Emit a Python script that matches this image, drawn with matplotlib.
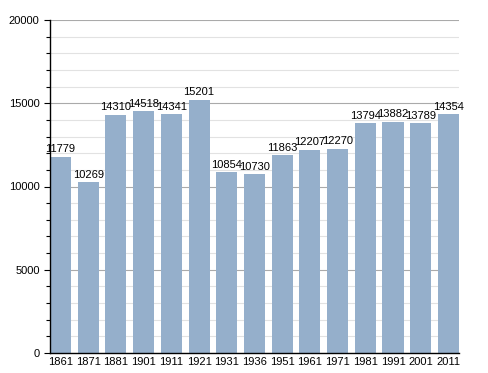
import matplotlib

matplotlib.use("Agg")
import matplotlib.pyplot as plt
from matplotlib.ticker import MultipleLocator

years = ["1861", "1871", "1881", "1901", "1911", "1921", "1931", "1936",
         "1951", "1961", "1971", "1981", "1991", "2001", "2011"]
population = [11779, 10269, 14310, 14518, 14341, 15201, 10854, 10730,
              11863, 12207, 12270, 13794, 13882, 13789, 14354]

plt.rcParams["font.family"] = ["Liberation Sans", "DejaVu Sans"]

fig = plt.figure(figsize=(4.88, 3.73), dpi=100)
ax = fig.add_axes([0.1025, 0.0536, 0.838, 0.8928])

width = 0.76
x = range(len(years))
ax.bar(x, population, width=width, color="#95afcb", zorder=2)
for i, v in zip(x, population):
    ax.text(i, v + 150, str(v), ha="center", va="bottom", fontsize=8, zorder=3)

ax.set_xlim(-width / 2, len(years) - 1 + width / 2)
ax.set_ylim(0, 20000)
ax.set_xticks(list(x))
ax.set_xticklabels(years, fontsize=8)
ax.yaxis.set_major_locator(MultipleLocator(5000))
ax.yaxis.set_minor_locator(MultipleLocator(1000))
ax.tick_params(axis="y", labelsize=8, length=4, width=0.8)
ax.tick_params(axis="y", which="minor", length=3, width=0.8)
ax.tick_params(axis="x", length=0, pad=3)
ax.grid(axis="y", which="major", color="#aaaaaa", lw=0.8, zorder=0)
ax.grid(axis="y", which="minor", color="#e2e2e2", lw=0.8, zorder=0)
for s in ["top", "right"]:
    ax.spines[s].set_visible(False)
ax.spines["left"].set_linewidth(1.0)
ax.spines["bottom"].set_linewidth(1.0)

fig.savefig("out.png", dpi=100, facecolor="white")
